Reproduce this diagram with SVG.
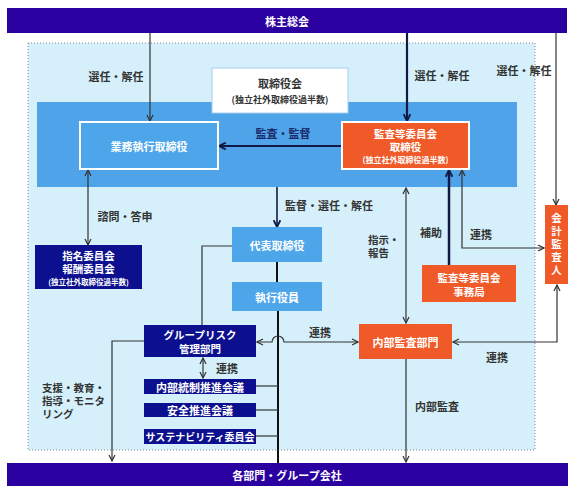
<svg xmlns="http://www.w3.org/2000/svg" width="576" height="495" viewBox="0 0 576 495">
<style>
text{font-family:"Noto Sans CJK JP","Noto Sans",sans-serif;font-weight:bold;dominant-baseline:central;text-anchor:middle}
.st{text-anchor:start}
.w{fill:#fff}
.lbl{fill:#333;font-size:11px}
.nv{fill:#1a2a6a}
.ln{fill:none;stroke:#333;stroke-width:1.2}
.thk{fill:none;stroke:#111a44;stroke-width:2.2}
.bar{fill:#2a00a0}
.navy{fill:#0c0f8e}
.org{fill:#ef5a28}
.lb{fill:#4ea6ea}
</style>
<defs>
<marker id="ah" viewBox="0 0 8 8" refX="7" refY="4" markerWidth="8" markerHeight="8" markerUnits="userSpaceOnUse" orient="auto-start-reverse">
<path d="M1,1 L7,4 L1,7" fill="none" stroke="#333" stroke-width="1.2"/>
</marker>
<marker id="ahk" viewBox="0 0 8 8" refX="7" refY="4" markerWidth="9" markerHeight="9" markerUnits="userSpaceOnUse" orient="auto-start-reverse">
<path d="M1,1 L7,4 L1,7" fill="none" stroke="#111a44" stroke-width="1.6"/>
</marker>
</defs>
<rect width="576" height="495" fill="#fff"/>
<rect x="28" y="43" width="507" height="407" fill="#d5f0fa" stroke="#888" stroke-width="1" stroke-dasharray="1,2"/>
<rect x="37" y="102" width="480" height="85" fill="#4fa3e8"/>

<g id="connectors">
<line class="ln" x1="150" y1="33" x2="150" y2="121" marker-end="url(#ah)"/>
<line class="thk" x1="407" y1="33" x2="407" y2="121" marker-end="url(#ahk)"/>
<line class="ln" x1="556" y1="33" x2="556" y2="205" marker-end="url(#ah)"/>
<line class="thk" x1="342" y1="146" x2="219" y2="146" marker-end="url(#ahk)"/>
<line class="ln" x1="88" y1="170" x2="88" y2="245" marker-start="url(#ah)" marker-end="url(#ah)"/>
<line class="thk" x1="277" y1="187" x2="277" y2="227" style="stroke-width:1.6" marker-end="url(#ahk)"/>
<line class="thk" x1="277" y1="262" x2="277" y2="282" style="stroke:#111;stroke-width:2"/>
<line class="thk" x1="278" y1="311" x2="278" y2="463" style="stroke:#111;stroke-width:2"/>
<line class="ln" x1="256" y1="386" x2="278" y2="386"/>
<line class="ln" x1="256" y1="410" x2="278" y2="410"/>
<line class="ln" x1="256" y1="436" x2="278" y2="436"/>
<path class="ln" d="M232,246 H202 V325"/>
<path class="ln" d="M144,341 H112 V461" marker-end="url(#ah)"/>
<line class="ln" x1="203" y1="358" x2="203" y2="378" marker-start="url(#ah)" marker-end="url(#ah)"/>
<path class="ln" d="M358,342 H284 A6,6 0 0 0 272,342 H257" marker-start="url(#ah)" marker-end="url(#ah)"/>
<line class="ln" x1="406" y1="188" x2="406" y2="323" marker-start="url(#ah)" marker-end="url(#ah)"/>
<line class="thk" x1="449" y1="265" x2="449" y2="170" style="stroke-width:2.5" marker-end="url(#ahk)"/>
<path class="ln" d="M462,170 V248 H544" marker-start="url(#ah)" marker-end="url(#ah)"/>
<path class="ln" d="M557,285 V342 H453" marker-start="url(#ah)" marker-end="url(#ah)"/>
<line class="ln" x1="406" y1="359" x2="406" y2="462" marker-end="url(#ah)"/>
</g>

<g id="labels">
<text class="lbl" x="116" y="76">選任・解任</text>
<text class="lbl" x="442" y="75">選任・解任</text>
<text class="lbl" x="524" y="70">選任・解任</text>
<text class="lbl nv" x="283" y="133">監査・監督</text>
<text class="lbl" x="125" y="216">諮問・答申</text>
<text class="lbl" x="329" y="205">監督・選任・解任</text>
<text class="lbl st" x="368" y="239" style="font-size:10.5px">指示・<tspan x="368" dy="13">報告</tspan></text>
<text class="lbl" x="431" y="232">補助</text>
<text class="lbl" x="481" y="234">連携</text>
<text class="lbl" x="227" y="368">連携</text>
<text class="lbl" x="320" y="332">連携</text>
<text class="lbl" x="497" y="357">連携</text>
<text class="lbl" x="437" y="406">内部監査</text>
<text class="lbl st" x="42" y="387" style="font-size:10.5px">支援・教育・<tspan x="42" dy="13">指導・モニタ</tspan><tspan x="42" dy="13">リング</tspan></text>
</g>

<g id="shareholders">
<rect class="bar" x="7" y="8" width="560" height="25"/>
<text class="w" x="287" y="20.5" font-size="11">株主総会</text>
</g>
<g id="board">
<rect x="212" y="68" width="136" height="45" fill="#fff" stroke="#a8cdee" stroke-width="1"/>
<text x="280" y="83" font-size="11" fill="#333">取締役会</text>
<text x="280" y="99" font-size="9" fill="#333">(独立社外取締役過半数)</text>
</g>
<g id="exec-directors">
<rect class="lb" x="80" y="122" width="138" height="47" stroke="#fff" stroke-width="2"/>
<text class="w" x="149" y="145.5" font-size="11">業務執行取締役</text>
</g>
<g id="audit-committee">
<rect class="org" x="342" y="122" width="127" height="47" stroke="#fff" stroke-width="2"/>
<text class="w" x="405.5" y="133" font-size="10.5">監査等委員会<tspan x="405.5" dy="13">取締役</tspan><tspan x="405.5" dy="13" font-size="8">(独立社外取締役過半数)</tspan></text>
</g>
<g id="nomination">
<rect class="navy" x="35" y="245" width="107" height="44"/>
<text class="w" x="88.5" y="255" font-size="10.5">指名委員会<tspan x="88.5" dy="13">報酬委員会</tspan><tspan x="88.5" dy="13" font-size="7.5">(独立社外取締役過半数)</tspan></text>
</g>
<g id="representative">
<rect class="lb" x="232" y="227" width="90" height="35"/>
<text class="w" x="277" y="244.5" font-size="11">代表取締役</text>
</g>
<g id="officers">
<rect class="lb" x="232" y="282" width="90" height="29"/>
<text class="w" x="277" y="296.5" font-size="11">執行役員</text>
</g>
<g id="audit-office">
<rect class="org" x="422" y="265" width="94" height="37"/>
<text class="w" x="469" y="277" font-size="10.5">監査等委員会<tspan x="469" dy="14">事務局</tspan></text>
</g>
<g id="accounting-auditor">
<rect class="org" x="545" y="205" width="23" height="79"/>
<text class="w" x="556.5" y="245" font-size="10.5" writing-mode="vertical-rl" letter-spacing="2.5">会計監査人</text>
</g>
<g id="group-risk">
<rect class="navy" x="144" y="325" width="112" height="32"/>
<text class="w" x="200" y="334.5" font-size="10.5">グループリスク<tspan x="200" dy="13.5">管理部門</tspan></text>
</g>
<g id="internal-control">
<rect class="navy" x="144" y="379" width="112" height="15"/>
<text class="w" x="200" y="386.5" font-size="11">内部統制推進会議</text>
</g>
<g id="safety">
<rect class="navy" x="144" y="403" width="112" height="14"/>
<text class="w" x="200" y="410" font-size="11">安全推進会議</text>
</g>
<g id="sustainability">
<rect class="navy" x="144" y="429" width="112" height="15"/>
<text class="w" x="200" y="436.5" font-size="10">サステナビリティ委員会</text>
</g>
<g id="internal-audit">
<rect class="org" x="359" y="324" width="93" height="35"/>
<text class="w" x="405.5" y="341.5" font-size="11">内部監査部門</text>
</g>
<g id="departments">
<rect class="bar" x="7" y="463" width="561" height="23"/>
<text class="w" x="287" y="474.5" font-size="11">各部門・グループ会社</text>
</g>
</svg>
